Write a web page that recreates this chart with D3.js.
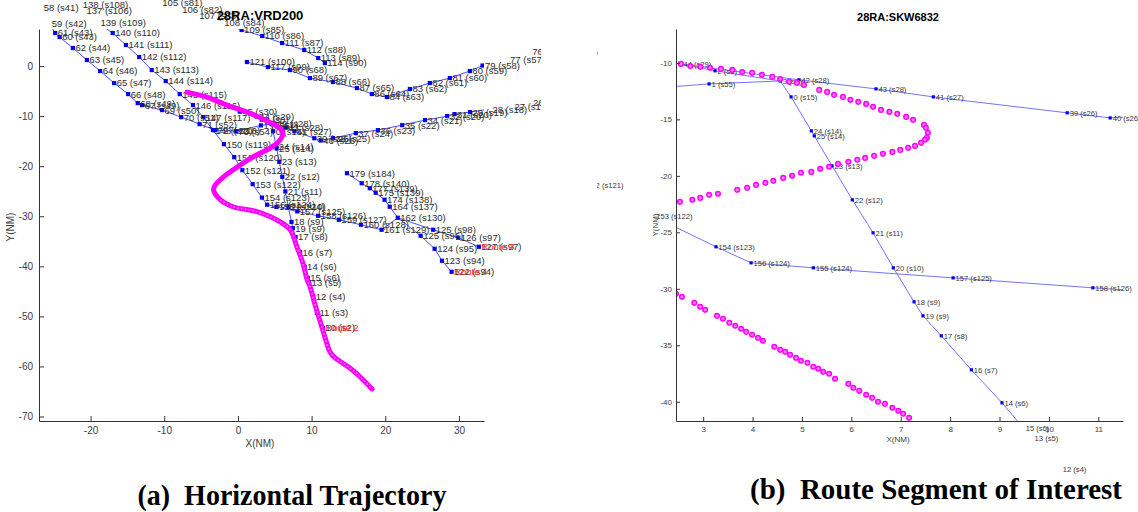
<!DOCTYPE html>
<html>
<head>
<meta charset="utf-8">
<script src="https://cdn.jsdelivr.net/npm/d3@7"></script>
<style>
  body { margin: 0; background: #fff; }
  svg { display: block; }
</style>
</head>
<body>
<svg id="fig" width="1138" height="512"></svg>
<script>
// ---- Route network around 28RA: each waypoint is [label, x (NM), y (NM)] ----
// An empty label marks a waypoint already listed on another route (shared junction).
const routeSouth = [
  ["10 (s2)", 11.53, -52.3], ["11 (s3)", 10.72, -49.3], ["12 (s4)", 10.23, -46.0],
  ["13 (s5)", 9.66, -43.2], ["15 (s6)", 9.48, -42.3], ["14 (s6)", 9.05, -40.09],
  ["16 (s7)", 8.43, -37.17], ["17 (s8)", 7.82, -34.16], ["19 (s9)", 7.45, -32.39],
  ["18 (s9)", 7.27, -31.15], ["20 (s10)", 6.85, -28.14], ["21 (s11)", 6.44, -25.04],
  ["22 (s12)", 6.02, -22.12], ["23 (s13)", 5.61, -19.12], ["25 (s14)", 5.25, -16.46],
  ["24 (s14)", 5.19, -16.02], ["0 (s15)", 4.78, -13.01], ["3 (s1)", 4.56, -11.6],
  ["2 (s0)", 3.24, -10.7], ["44 (s29)", 2.55, -10.1]
];
const routeWest = [
  ["58 (s41)", -26.7, 11.6], ["59 (s42)", -25.6, 8.4], ["61 (s43)", -24.8, 6.6],
  ["60 (s43)", -24.2, 5.8], ["62 (s44)", -22.4, 3.6], ["63 (s45)", -20.5, 1.2],
  ["64 (s46)", -18.7, -1.0], ["65 (s47)", -16.8, -3.4], ["66 (s48)", -14.9, -5.6],
  ["68 (s49)", -13.6, -7.4], ["67 (s49)", -13.0, -7.8], ["69 (s50)", -10.3, -8.8],
  ["70 (s51)", -7.7, -10.2], ["71 (s52)", -5.2, -11.6], ["72 (s53)", -3.1, -12.8],
  ["73 (s54)", -0.3, -13.0], ["1 (s55)", 3.12, -11.86], ["", 4.56, -11.6]
];
const routeNorth = [
  ["138 (s108)", -21.4, 12.2], ["137 (s106)", -20.9, 11.0], ["139 (s109)", -19.0, 8.6],
  ["140 (s110)", -17.0, 6.6], ["141 (s111)", -15.2, 4.2], ["142 (s112)", -13.4, 1.8],
  ["143 (s113)", -11.7, -0.8], ["144 (s114)", -9.8, -3.0], ["145 (s115)", -7.9, -5.6],
  ["146 (s116)", -6.1, -7.8], ["147 (s117)", -4.7, -10.2], ["148 (s118)", -3.4, -12.8],
  ["150 (s119)", -1.9, -15.6], ["151 (s120)", -0.5, -18.2], ["152 (s121)", 0.6, -20.8],
  ["153 (s122)", 2.0, -23.6], ["154 (s123)", 3.26, -26.28], ["156 (s124)", 3.97, -27.70],
  ["155 (s124)", 5.23, -28.14], ["157 (s125)", 8.06, -29.03], ["158 (s126)", 10.89, -29.91],
  ["159 (s127)", 13.7, -30.7], ["160 (s128)", 16.7, -31.7], ["161 (s129)", 19.5, -32.7],
  ["162 (s130)", 21.7, -30.3]
];
const routeNorthEast = [
  ["105 (s81)", -10.6, 12.6], ["106 (s82)", -7.9, 11.2], ["107 (s83)", -5.6, 10.0],
  ["108 (s84)", -2.2, 8.6], ["109 (s85)", 0.5, 7.2], ["110 (s86)", 3.3, 6.0],
  ["111 (s87)", 6.0, 4.6], ["112 (s88)", 9.0, 3.2], ["113 (s89)", 10.9, 1.6],
  ["114 (s90)", 11.8, 0.6]
];
const routeEast = [
  ["121 (s100)", 1.22, 0.80], ["117 (s99)", 4.07, -0.20], ["90 (s68)", 7.06, -0.80],
  ["89 (s67)", 9.77, -2.40], ["88 (s66)", 12.89, -3.19], ["87 (s65)", 16.15, -4.39],
  ["86 (s64)", 18.18, -5.59], ["84 (s63)", 20.22, -6.19], ["83 (s62)", 23.34, -4.59],
  ["82 (s61)", 26.05, -3.39], ["81 (s60)", 28.77, -2.40], ["80 (s59)", 31.48, -1.00],
  ["79 (s58)", 33.2, 0.1], ["77 (s57)", 36.6, 1.2], ["76 (s57)", 39.6, 2.8]
];
const routeEastLow = [
  ["45 (s30)", 0.25, -9.1], ["", 2.55, -10.1], ["42 (s28)", 4.94, -11.50],
  ["43 (s28)", 6.50, -12.30], ["41 (s27)", 7.66, -13.01], ["39 (s26)", 10.37, -14.42],
  ["40 (s26)", 11.24, -14.87], ["38 (s25)", 12.9, -14.4], ["37 (s24)", 16.0, -13.4],
  ["36 (s23)", 19.0, -12.8], ["35 (s22)", 22.3, -11.8], ["34 (s21)", 25.4, -10.8],
  ["32 (s20)", 28.4, -10.0], ["31 (s20)", 29.4, -9.6], ["29 (s19)", 31.5, -9.2],
  ["28 (s18)", 34.2, -8.6], ["27 (s17)", 37.2, -8.0], ["26 (s16)", 39.7, -7.3]
];
const routeSouthEast = [
  ["179 (s184)", 14.8, -21.4], ["178 (s140)", 16.8, -23.4], ["177 (s139)", 17.9, -24.4],
  ["175 (s139)", 18.7, -25.3], ["174 (s138)", 19.9, -26.7], ["164 (s137)", 20.6, -28.1],
  ["", 21.7, -30.3]
];
const routeThree = [
  ["", 21.7, -30.3], ["125 (s98)", 26.5, -32.7], ["126 (s97)", 29.9, -34.3],
  ["127 (s97)", 32.7, -36.1]
];
const routeFour = [
  ["", 21.7, -30.3], ["125 (s96)", 24.8, -33.9], ["124 (s95)", 26.7, -36.5],
  ["123 (s94)", 27.7, -38.9], ["122 (s94)", 29.0, -41.1]
];
const routes = [routeSouth, routeWest, routeNorth, routeNorthEast, routeEast,
                routeEastLow, routeSouthEast, routeThree, routeFour];

// Route end names, drawn in red at the last waypoint of each arrival route
const routeNames = [["Route 2", 11.53, -52.3], ["Route 3", 32.7, -36.1], ["Route 4", 29.0, -41.1]];

// ---- Flown tracks [x (NM), y (NM)] ----
const trackVRD200 = [
  [-6.9, -5.2], [-4.2, -6.2], [-1.5, -7.8], [1.6, -9.4], [4.3, -11.2], [5.7, -12.4],
  [6.1, -13.4], [5.7, -14.8], [4.6, -16.2], [2.0, -18.2], [0.3, -19.8], [-2.0, -22.2],
  [-3.1, -23.8], [-3.3, -24.8], [-2.4, -26.7], [-0.7, -28.1], [2.6, -29.1], [5.7, -31.1],
  [7.1, -32.7], [8.0, -36.1], [8.8, -39.3], [9.4, -42.7], [9.8, -44.1], [10.4, -47.3],
  [11.1, -50.7], [11.8, -54.1], [12.5, -57.1], [13.2, -58.3], [15.2, -60.3], [16.6, -62.1],
  [18.2, -64.5]
];
const trackSKW6832 = [
  [2.55, -10.09], [2.74, -10.27], [2.94, -10.35], [3.14, -10.44], [3.36, -10.53], [3.59, -10.62],
  [3.79, -10.80], [3.99, -10.88], [4.19, -11.06], [4.40, -11.24], [4.56, -11.42], [4.74, -11.68],
  [4.90, -11.77], [5.04, -11.95], [5.35, -12.39], [5.51, -12.57], [5.65, -12.83], [5.83, -13.01],
  [5.98, -13.27], [6.14, -13.45], [6.30, -13.63], [6.44, -13.89], [6.60, -14.16], [6.77, -14.34],
  [6.93, -14.51], [7.11, -14.78], [7.25, -15.04], [7.47, -15.49], [7.51, -15.75], [7.55, -16.19],
  [7.53, -16.64], [7.49, -16.81], [7.41, -17.08], [7.29, -17.35], [7.15, -17.52], [6.99, -17.70],
  [6.83, -17.88], [6.64, -18.05], [6.46, -18.23], [6.28, -18.41], [6.12, -18.58], [5.94, -18.76],
  [5.73, -18.94], [5.55, -19.20], [5.37, -19.38], [5.19, -19.65], [4.98, -19.73], [4.80, -20.00],
  [4.62, -20.18], [4.42, -20.44], [4.26, -20.62], [4.07, -20.80], [3.89, -21.06], [3.69, -21.24],
  [3.30, -21.59], [3.12, -21.68], [2.94, -21.95], [2.78, -22.12], [2.53, -22.30],
  [2.45, -30.44], [2.57, -30.71], [2.82, -31.24], [2.94, -31.59], [3.04, -31.86], [3.28, -32.39],
  [3.40, -32.65], [3.53, -33.01], [3.65, -33.27], [3.77, -33.54], [3.87, -33.81], [3.99, -34.07],
  [4.11, -34.34], [4.21, -34.60], [4.44, -35.13], [4.56, -35.40], [4.66, -35.58], [4.76, -35.84],
  [4.88, -36.11], [4.98, -36.37], [5.11, -36.55], [5.23, -36.90], [5.33, -37.08], [5.43, -37.35],
  [5.55, -37.52], [5.67, -37.96], [5.94, -38.41], [6.04, -38.76], [6.16, -39.03], [6.30, -39.38],
  [6.42, -39.65], [6.54, -40.00], [6.68, -40.18], [6.83, -40.53], [6.95, -40.80], [7.05, -41.06],
  [7.17, -41.42]
];

// ---- Axis ticks ----
const xTicksA = [-20, -10, 0, 10, 20, 30];
const yTicksA = [-70, -60, -50, -40, -30, -20, -10, 0];
const xTicksB = [3, 4, 5, 6, 7, 8, 9, 10, 11];
const yTicksB = [-40, -35, -30, -25, -20, -15, -10];

const svg = d3.select("#fig");
const defs = svg.append("defs");
const FONT = "'Liberation Sans', Arial, Helvetica, sans-serif";

function drawPanel(cfg) {
  const x = d3.scaleLinear().domain(cfg.xDomain).range([cfg.left, cfg.right]);
  const y = d3.scaleLinear().domain(cfg.yDomain).range([cfg.bottom, cfg.top]);

  defs.append("clipPath").attr("id", cfg.id + "-plot").append("rect")
    .attr("x", cfg.left).attr("y", cfg.top)
    .attr("width", cfg.right - cfg.left).attr("height", cfg.bottom - cfg.top);
  defs.append("clipPath").attr("id", cfg.id + "-text").append("rect")
    .attr("x", cfg.textBox[0]).attr("y", cfg.textBox[1])
    .attr("width", cfg.textBox[2]).attr("height", cfg.textBox[3]);

  const g = svg.append("g");
  const marks = g.append("g").attr("clip-path", `url(#${cfg.id}-plot)`);

  // route legs
  const leg = d3.line().x(d => x(d[1])).y(d => y(d[2]));
  marks.selectAll("path.leg").data(routes).join("path")
    .attr("class", "leg")
    .attr("d", leg)
    .attr("fill", "none")
    .attr("stroke", cfg.legColor)
    .attr("stroke-width", 1);

  // waypoints
  const pts = routes.flat().filter(d => d[0] !== "");
  const s = cfg.marker;
  marks.selectAll("rect.wp").data(pts).join("rect")
    .attr("class", "wp")
    .attr("x", d => x(d[1]) - s / 2).attr("y", d => y(d[2]) - s / 2)
    .attr("width", s).attr("height", s)
    .attr("fill", "#0000f0");

  // waypoint labels (not clipped to the axes)
  const lab = g.append("g").attr("clip-path", `url(#${cfg.id}-text)`)
    .style("font-family", FONT).style("font-size", cfg.labelSize + "px");
  lab.selectAll("text.wpl").data(pts).join("text")
    .attr("class", "wpl")
    .attr("x", d => x(d[1]) + cfg.dx).attr("y", d => y(d[2]))
    .attr("dy", "0.36em")
    .attr("fill", cfg.labelColor)
    .text(d => d[0]);
  lab.selectAll("text.rn").data(routeNames).join("text")
    .attr("class", "rn")
    .attr("x", d => x(d[1]) + cfg.dx).attr("y", d => y(d[2]))
    .attr("dy", "0.36em")
    .attr("fill", "#ff2020")
    .text(d => d[0]);

  // flown track
  const trk = g.append("g").attr("clip-path", `url(#${cfg.id}-plot)`);
  if (cfg.trackLine) {
    trk.append("path")
      .attr("d", d3.line().x(d => x(d[0])).y(d => y(d[1])).curve(d3.curveCatmullRom)(cfg.track))
      .attr("fill", "none").attr("stroke", "#ff00ff")
      .attr("stroke-width", 5).attr("stroke-linejoin", "round").attr("stroke-linecap", "round");
    trk.append("path")
      .attr("d", d3.line().x(d => x(d[0])).y(d => y(d[1])).curve(d3.curveCatmullRom)(cfg.track.slice(14)))
      .attr("fill", "none").attr("stroke", "#ff8cff")
      .attr("stroke-width", 1.4).attr("stroke-dasharray", "1.6 2.2");
  } else {
    trk.selectAll("circle").data(cfg.track).join("circle")
      .attr("cx", d => x(d[0])).attr("cy", d => y(d[1]))
      .attr("r", 2.3)
      .attr("fill", "#ff80ff").attr("stroke", "#ff00ff").attr("stroke-width", 1.5);
  }

  // axes (ticks pointing inward)
  const axStyle = sel => {
    sel.attr("font-family", FONT).attr("font-size", cfg.tickSize);
    sel.select(".domain").attr("stroke", "#333");
    sel.selectAll(".tick line").attr("stroke", "#333");
    sel.selectAll(".tick text").attr("fill", "#3c3c3c");
  };
  g.append("g").attr("transform", `translate(0,${cfg.bottom})`)
    .call(d3.axisBottom(x).tickValues(cfg.xTicks).tickSizeInner(-cfg.tickLen)
      .tickSizeOuter(0).tickPadding(cfg.xPad).tickFormat(d => String(d)))
    .call(axStyle);
  g.append("g").attr("transform", `translate(${cfg.left},0)`)
    .call(d3.axisLeft(y).tickValues(cfg.yTicks).tickSizeInner(-cfg.tickLen)
      .tickSizeOuter(0).tickPadding(cfg.yPad).tickFormat(d => String(d)))
    .call(axStyle);

  // axis titles
  g.append("text").attr("x", cfg.xLabel[0]).attr("y", cfg.xLabel[1])
    .attr("text-anchor", "middle").attr("dy", "0.36em")
    .style("font-family", FONT).style("font-size", cfg.tickSize + "px").attr("fill", "#3c3c3c")
    .text("X(NM)");
  g.append("text")
    .attr("transform", `translate(${cfg.yLabel[0]},${cfg.yLabel[1]}) rotate(-90)`)
    .attr("text-anchor", "middle").attr("dy", "0.36em")
    .style("font-family", FONT).style("font-size", cfg.tickSize + "px").attr("fill", "#3c3c3c")
    .text("Y(NM)");

  // plot title
  g.append("text").attr("x", cfg.title[0]).attr("y", cfg.title[1])
    .attr("text-anchor", "middle")
    .style("font-family", FONT).style("font-weight", "bold")
    .style("font-size", cfg.titleSize + "px").attr("fill", "#000")
    .text(cfg.title[2]);
}

// (a) full horizontal trajectory
drawPanel({
  id: "pa", left: 39, right: 484, top: 29, bottom: 421,
  xDomain: [-27, 33.4], yDomain: [-70.9, 7.4],
  xTicks: xTicksA, yTicks: yTicksA,
  textBox: [0, 0, 541, 455],
  legColor: "#4d4dff", marker: 4.2, labelSize: 9.5, labelColor: "#2c2c2c", dx: 2.5,
  track: trackVRD200, trackLine: true,
  tickSize: 10, tickLen: 5, xPad: 6, yPad: 6,
  xLabel: [260, 443], yLabel: [10, 227],
  title: [260, 20, "28RA:VRD200"], titleSize: 13
});

// (b) zoom on the route segment of interest
drawPanel({
  id: "pb", left: 676, right: 1123, top: 29, bottom: 421,
  xDomain: [2.45, 11.5], yDomain: [-41.7, -7.0],
  xTicks: xTicksB, yTicks: yTicksB,
  textBox: [597, 0, 541, 478],
  legColor: "#7474ff", marker: 3.2, labelSize: 7.6, labelColor: "#383838", dx: 2.5,
  track: trackSKW6832, trackLine: false,
  tickSize: 8, tickLen: 4, xPad: 5, yPad: 4,
  xLabel: [898, 439], yLabel: [655, 225],
  title: [898, 21, "28RA:SKW6832"], titleSize: 11
});

// sub-figure captions
const capFont = "'Liberation Serif', 'Times New Roman', Times, serif";
svg.append("text").attr("x", 292).attr("y", 505).attr("text-anchor", "middle")
  .attr("textLength", 309).attr("lengthAdjust", "spacingAndGlyphs")
  .style("font-family", capFont).style("font-weight", "bold").style("font-size", "29px")
  .attr("fill", "#000").attr("xml:space", "preserve")
  .text("(a)  Horizontal Trajectory");
svg.append("text").attr("x", 936).attr("y", 499).attr("text-anchor", "middle")
  .attr("textLength", 372).attr("lengthAdjust", "spacingAndGlyphs")
  .style("font-family", capFont).style("font-weight", "bold").style("font-size", "29px")
  .attr("fill", "#000").attr("xml:space", "preserve")
  .text("(b)  Route Segment of Interest");
</script>
</body>
</html>
